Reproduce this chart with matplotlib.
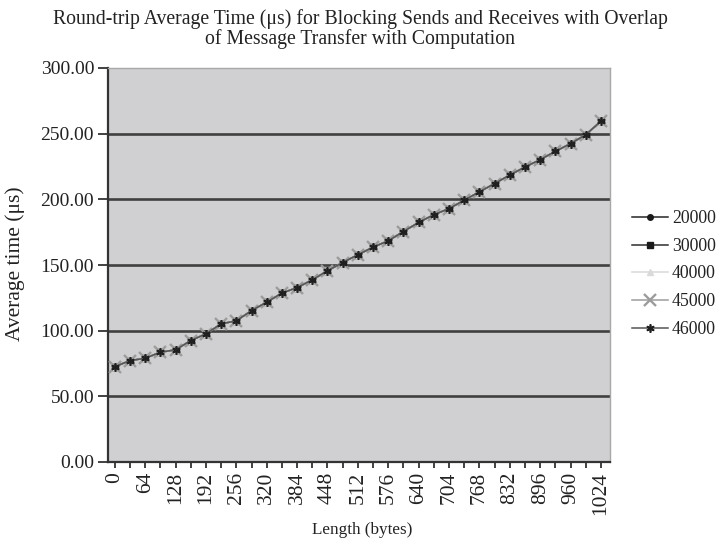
import matplotlib
matplotlib.use("Agg")
import matplotlib.pyplot as plt
import numpy as np

plt.rcParams['font.family'] = ['Liberation Serif', 'DejaVu Serif']

# Message lengths in bytes (categories)
lengths = [0, 32, 64, 96, 128, 160, 192, 224, 256, 288, 320, 352, 384, 416, 448,
           480, 512, 544, 576, 608, 640, 672, 704, 736, 768, 800, 832, 864, 896,
           928, 960, 992, 1024]

# Round-trip average time (us) per iteration count
t_20000 = [72.6, 77.2, 79.0, 83.6, 85.4, 92.5, 97.6, 105.2, 107.5, 115.3, 121.7,
           128.6, 132.8, 138.7, 145.6, 151.9, 157.8, 163.6, 168.4, 175.5, 182.4,
           188.3, 192.9, 199.3, 205.7, 212.0, 218.5, 224.6, 230.2, 236.5, 242.4,
           249.2, 259.4]
t_30000 = [72.6, 77.2, 79.0, 83.6, 85.4, 92.5, 97.6, 105.2, 107.5, 115.3, 121.7,
           128.6, 132.8, 138.7, 145.6, 151.9, 157.8, 163.6, 168.4, 175.5, 182.4,
           188.3, 192.9, 199.3, 205.7, 212.0, 218.5, 224.6, 230.2, 236.5, 242.4,
           249.2, 259.4]
t_40000 = [72.6, 77.2, 79.0, 83.6, 85.4, 92.5, 97.6, 105.2, 107.5, 115.3, 121.7,
           128.6, 132.8, 138.7, 145.6, 151.9, 157.8, 163.6, 168.4, 175.5, 182.4,
           188.3, 192.9, 199.3, 205.7, 212.0, 218.5, 224.6, 230.2, 236.5, 242.4,
           249.2, 259.4]
t_45000 = [72.6, 77.2, 79.0, 83.6, 85.4, 92.5, 97.6, 105.2, 107.5, 115.3, 121.7,
           128.6, 132.8, 138.7, 145.6, 151.9, 157.8, 163.6, 168.4, 175.5, 182.4,
           188.3, 192.9, 199.3, 205.7, 212.0, 218.5, 224.6, 230.2, 236.5, 242.4,
           249.2, 259.4]
t_46000 = [72.6, 77.2, 79.0, 83.6, 85.4, 92.5, 97.6, 105.2, 107.5, 115.3, 121.7,
           128.6, 132.8, 138.7, 145.6, 151.9, 157.8, 163.6, 168.4, 175.5, 182.4,
           188.3, 192.9, 199.3, 205.7, 212.0, 218.5, 224.6, 230.2, 236.5, 242.4,
           249.2, 259.4]

series_labels = ['20000', '30000', '40000', '45000', '46000']

fig = plt.figure(figsize=(7.21, 5.46), dpi=100)
ax = fig.add_axes([108 / 721, 1 - 462 / 546, (610 - 108) / 721, (462 - 68) / 546])
ax.set_facecolor('#d0d0d2')

x = np.arange(len(lengths))
styles = [
    dict(color='#262626', marker='o', ms=4, mfc='#1a1a1a', mec='#1a1a1a', zorder=3),
    dict(color='#2e2e2e', marker='s', ms=4, mfc='#1a1a1a', mec='#1a1a1a', zorder=3.1),
    dict(color='#dadada', marker='^', ms=5, mfc='#dadada', mec='#dadada', zorder=3.2),
    dict(color='#9c9c9c', marker='x', ms=8, mew=1.7, mfc='#9c9c9c', mec='#9c9c9c', zorder=3.3),
    dict(color='#555555', marker=(6, 2, 0), ms=6, mew=1.2, mfc='#202020', mec='#202020', zorder=3.4),
]
for vals, lab, st in zip([t_20000, t_30000, t_40000, t_45000, t_46000], series_labels, styles):
    ax.plot(x, vals, lw=1.1, label=lab, **st)

ax.set_ylim(0, 300)
ax.set_xlim(-0.45, 32.6)
ax.set_yticks(np.arange(0, 301, 50))
ax.set_yticklabels([f'{v:.2f}' for v in np.arange(0, 301, 50)], fontsize=14, color='#222222')
for v in range(50, 300, 50):
    ax.axhline(v, color='#404040', lw=1.9, zorder=1)

ax.set_xticks(x)
ax.set_xticklabels([str(l) if i % 2 == 0 else '' for i, l in enumerate(lengths)],
                   rotation=90, fontsize=15.5, color='#222222')
ax.tick_params(axis='y', direction='out', length=7, width=1.3, color='#333333', pad=3)
ax.tick_params(axis='x', direction='out', length=4, width=1.3, color='#333333', pad=3)

for side in ['top', 'right']:
    ax.spines[side].set_color('#a8a8a8')
    ax.spines[side].set_linewidth(1.0)
for side in ['left', 'bottom']:
    ax.spines[side].set_color('#333333')
    ax.spines[side].set_linewidth(1.6)

fig.text(360 / 721, 1 - 9 / 546,
         'Round-trip Average Time (\u03bcs) for Blocking Sends and Receives with Overlap\n'
         'of Message Transfer with Computation',
         ha='center', va='top', fontsize=14.2, color='#222222', linespacing=1.0)
fig.text(362 / 721, 1 - 530 / 546, 'Length (bytes)', ha='center', va='center',
         fontsize=12.3, color='#222222')
fig.text(15 / 721, 1 - 264 / 546, 'Average time (\u03bcs)', ha='center', va='center',
         rotation=90, fontsize=15.5, color='#222222')

leg = fig.legend(loc='upper left', bbox_to_anchor=(625 / 721, 1 - 203 / 546),
                 frameon=False, fontsize=12.8, handlelength=2.0, handletextpad=0.25,
                 labelspacing=0.6, borderaxespad=0)
for t in leg.get_texts():
    t.set_color('#222222')

fig.savefig('out.png', dpi=100)
